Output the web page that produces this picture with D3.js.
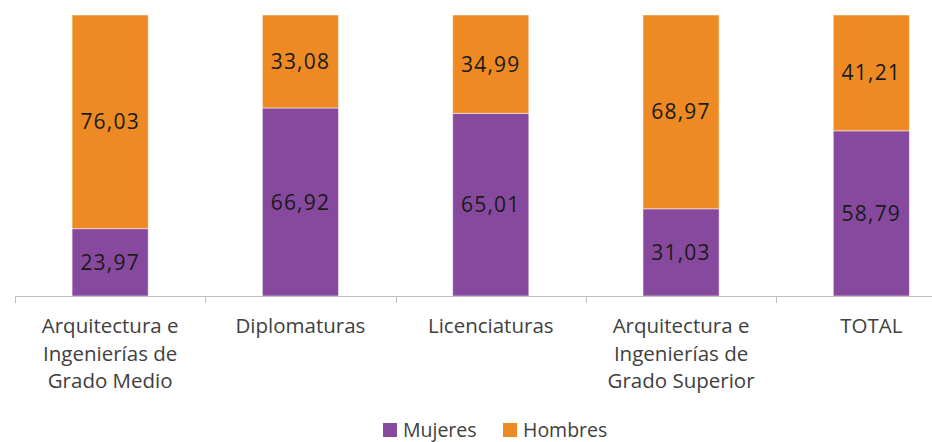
<!DOCTYPE html>
<html>
<head>
<meta charset="utf-8">
<script src="https://cdn.jsdelivr.net/npm/d3@7"></script>
<style>
  body { margin: 0; background: #fff; }
  svg { display: block; font-family: "Open Sans", sans-serif; }
</style>
</head>
<body>
<div id="chart"></div>
<script>
// Data
var categories = [
    ["Arquitectura e", "Ingenierías de", "Grado Medio"],
    ["Diplomaturas"],
    ["Licenciaturas"],
    ["Arquitectura e", "Ingenierías de", "Grado Superior"],
    ["TOTAL"]
];
var mujeres = [23.97, 66.92, 65.01, 31.03, 58.79];
var hombres = [76.03, 33.08, 34.99, 68.97, 41.21];
var seriesNames = ["Mujeres", "Hombres"];

var width = 932, height = 442;
var colors = { "Mujeres": "#86499D", "Hombres": "#EE8A24" };

var svg = d3.select("#chart").append("svg")
    .attr("width", width)
    .attr("height", height);

var keys = categories.map(function(c, i) { return "c" + i; });
var rows = keys.map(function(k, i) {
    return { key: k, Mujeres: mujeres[i], Hombres: hombres[i] };
});

// Scales
var x = d3.scaleBand()
    .domain(keys)
    .range([15, 15 + 5 * 190.3])
    .paddingInner(0.6)
    .paddingOuter(0.3);

var y = d3.scaleLinear()
    .domain([0, 100])
    .range([296, 15]);

var stacked = d3.stack().keys(seriesNames)(rows);

// Bars
var layers = svg.selectAll(".layer")
    .data(stacked)
    .enter().append("g")
    .attr("class", "layer")
    .attr("fill", function(d) { return colors[d.key]; });

layers.selectAll("rect")
    .data(function(d) { return d; })
    .enter().append("rect")
    .attr("x", function(d) { return x(d.data.key); })
    .attr("y", function(d) { return y(d[1]); })
    .attr("width", x.bandwidth())
    .attr("height", function(d) { return y(d[0]) - y(d[1]); })
    .attr("stroke", "#fff")
    .attr("stroke-opacity", 0.5)
    .attr("stroke-width", 1);

// Value labels
layers.selectAll("text")
    .data(function(d) { return d.map(function(p) { return { p: p, key: d.key }; }); })
    .enter().append("text")
    .attr("x", function(d) { return x(d.p.data.key) + x.bandwidth() / 2; })
    .attr("y", function(d) { return (y(d.p[0]) + y(d.p[1])) / 2; })
    .attr("dy", "0.36em")
    .attr("text-anchor", "middle")
    .style("font-size", "21px")
    .style("letter-spacing", "1.2px")
    .style("fill", "#1a1a1a")
    .text(function(d) { return d3.format(".2f")(d.p.data[d.key]).replace(".", ","); });

// Axis
var step = x.step();
var axis = svg.append("g").attr("class", "axis");
axis.append("line")
    .attr("x1", 15).attr("x2", width)
    .attr("y1", y(0) + 0.5).attr("y2", y(0) + 0.5)
    .attr("stroke", "#BFBFBF");

axis.selectAll(".tick")
    .data(keys)
    .enter().append("line")
    .attr("x1", function(k) { return Math.round(x(k) - step * 0.3) + 0.5; })
    .attr("x2", function(k) { return Math.round(x(k) - step * 0.3) + 0.5; })
    .attr("y1", y(0)).attr("y2", y(0) + 7)
    .attr("stroke", "#BFBFBF");

// Category labels
var labels = axis.selectAll(".cat")
    .data(keys)
    .enter().append("text")
    .attr("class", "cat")
    .attr("text-anchor", "middle")
    .style("font-size", "20.5px")
    .style("fill", "#404040");

labels.selectAll("tspan")
    .data(function(k, i) { return categories[i].map(function(t) { return { t: t, k: k }; }); })
    .enter().append("tspan")
    .attr("x", function(d) { return x(d.k) + x.bandwidth() / 2; })
    .attr("y", function(d, j) { return 333 + j * 27.5; })
    .text(function(d) { return d.t; });

// Legend
var legendItems = [
    { name: "Mujeres", x: 383 },
    { name: "Hombres", x: 503 }
];
var legend = svg.selectAll(".legend")
    .data(legendItems)
    .enter().append("g")
    .attr("class", "legend")
    .attr("transform", function(d) { return "translate(" + d.x + ",423)"; });

legend.append("rect")
    .attr("width", 14)
    .attr("height", 14)
    .attr("fill", function(d) { return colors[d.name]; });

legend.append("text")
    .attr("x", 20)
    .attr("y", 13.5)
    .style("font-size", "19.5px")
    .style("fill", "#404040")
    .text(function(d) { return d.name; });
</script>
</body>
</html>
